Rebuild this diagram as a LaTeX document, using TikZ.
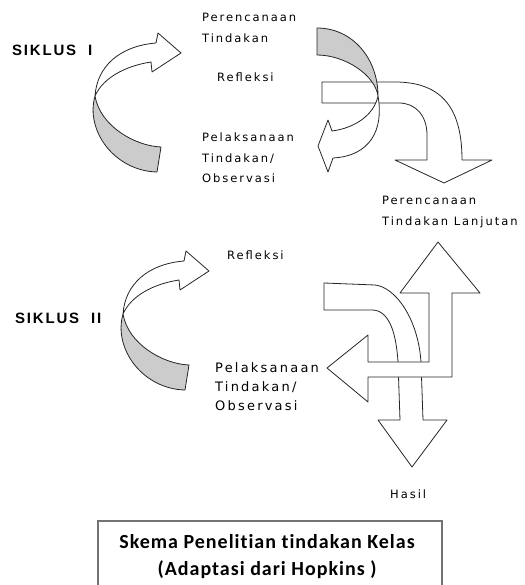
\documentclass[tikz,border=0pt]{standalone}
\usepackage{fontspec}
\newfontfamily\lblfont{DejaVu Sans}[LetterSpace=17]
\newfontfamily\siklusfont{Liberation Sans}[LetterSpace=12]
\newfontfamily\capfont{Carlito}[LetterSpace=5,Ligatures=NoCommon]
\tikzset{
  band/.style={draw=black!85,line width=0.8pt,fill=white,line join=round},
  fold/.style={band,fill=black!20},
  twist/.pic={
    % lower part, seen from behind
    \path[fold] (0,0) .. controls (-10,35) and (20,75) .. (62,76) -- (66,51)
      .. controls (40,50) and (5,30) .. (0,0);
    % upper part with the head
    \path[band] (0,0) .. controls (2,-30) and (25,-50) .. (61,-53) -- (63,-63)
      -- (86,-43) -- (57,-24) -- (56,-34) .. controls (30,-30) and (8,-18) .. (0,0);
  }
}
\begin{document}
\begin{tikzpicture}[x=1pt,y=-1pt,
lbl/.style={font=\lblfont\fontsize{11.5}{20.5}\selectfont,inner sep=0pt,anchor=north west,align=left},
siklus/.style={font=\siklusfont\bfseries\fontsize{15}{17}\selectfont,inner sep=0pt,anchor=west},
caption/.style={font=\capfont\bfseries\fontsize{20}{24}\selectfont,inner sep=0pt}]
\useasboundingbox (0,0) rectangle (524,585);
%siklus I
\node[siklus] (sik1) at (12,50) {SIKLUS\ \ I};
\pic at (95,96) {twist};
\path[band] (322,82) -- (395,82) .. controls (445,82) and (462,112) .. (462,160)
  -- (492,160) -- (444,183) -- (395,160) -- (427,160) -- (427,135)
  .. controls (427,115) and (415,103) .. (399,103) -- (322,103) -- cycle;
\path[fold] (317,28) .. controls (352,28) and (378,58) .. (378,96)
  .. controls (375,75) and (345,55) .. (317,55) -- cycle;
\path[band] (378,96) .. controls (384,130) and (370,156) .. (333,158) -- (328,172)
  -- (318,146) -- (328,120) -- (332,131) .. controls (355,128) and (374,115) .. (378,96);
\node[lbl] (plan1) at (202,13) {Perencanaan\\Tindakan};
\node[lbl] (refl1) at (217,73) {Refleksi};
\node[lbl] (act1) at (202,133) {Pelaksanaan\\Tindakan/\\Observasi};
\node[lbl] (plan2) at (382,196) {Perencanaan\\Tindakan Lanjutan};
%siklus II
\node[siklus] (sik2) at (15,318) {SIKLUS\ \ II};
\pic at (123,314) {twist};
\path[band] (324,283) -- (375,285) .. controls (395,287) and (418,318) .. (421,362)
  -- (423,420) -- (447,420) -- (412,467) -- (378,420) -- (400,420) -- (398,362)
  .. controls (396,330) and (388,310) .. (372,310) -- (324,310) -- cycle;
\path[band] (327,368) -- (368,335) -- (368,362) -- (429,362) -- (429,293) -- (400,293)
  -- (438,242) -- (480,293) -- (452,293) -- (452,377) -- (368,377) -- (368,402) -- cycle;
\node[lbl] (refl2) at (227,251) {Refleksi};
\node[lbl,font=\lblfont\fontsize{13}{19}\selectfont] (act2) at (215,362) {Pelaksanaan\\Tindakan/\\Observasi};
\node[lbl] (hasil) at (390,490) {Hasil};
%caption
\draw[black!55,line width=1.5pt] (98,589) -- (98,521) -- (442,521) -- (442,589);
\node[caption] (cap1) at (267,542) {Skema Penelitian tindakan Kelas};
\node[caption] (cap2) at (267,570) {(Adaptasi dari Hopkins )};
\end{tikzpicture}
\end{document}
